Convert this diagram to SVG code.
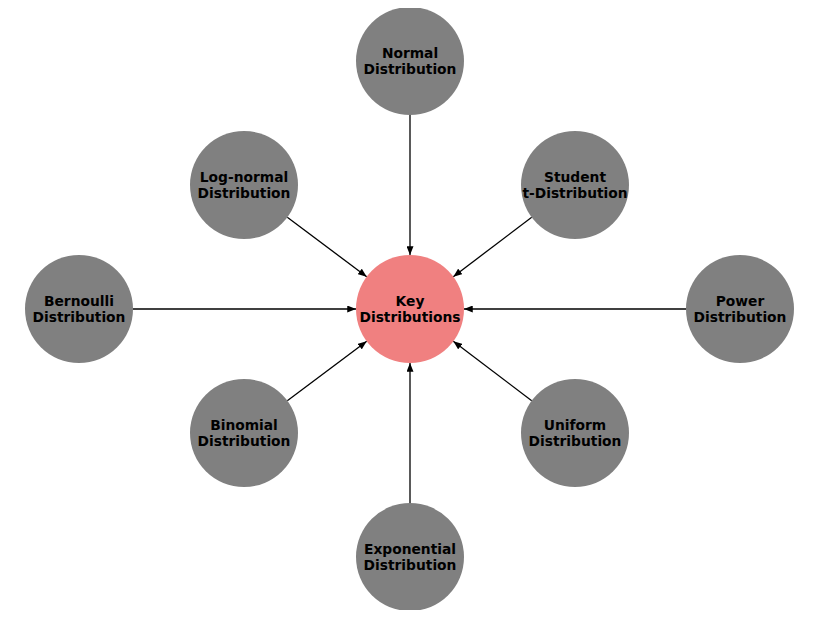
<svg xmlns="http://www.w3.org/2000/svg" width="819" height="619" viewBox="0 0 819 619">
<style>
.n{fill:#808080}
.c{fill:#F08080}
text{font-family:"DejaVu Sans",sans-serif;font-weight:bold;font-size:13.8px;text-anchor:middle;fill:#000}
.e{stroke:#000;stroke-width:1.3;fill:none;marker-end:url(#a)}
</style>
<defs>
<clipPath id="clip"><rect x="0" y="8" width="819" height="602"/></clipPath>
<marker id="a" viewBox="0 0 10 8" refX="10" refY="4" markerWidth="9" markerHeight="7" markerUnits="userSpaceOnUse" orient="auto"><path d="M0,0L10,4L0,8z" fill="#000"/></marker>
</defs>
<rect width="819" height="619" fill="#fff"/>
<g id="edges">
<line class="e" x1="410" y1="115" x2="410" y2="255"/>
<line class="e" x1="410" y1="503" x2="410" y2="363"/>
<line class="e" x1="133" y1="309" x2="356" y2="309"/>
<line class="e" x1="686" y1="309" x2="464" y2="309"/>
<line class="e" x1="287.3" y1="217.3" x2="366.7" y2="276.7"/>
<line class="e" x1="531.7" y1="217.3" x2="453.3" y2="276.7"/>
<line class="e" x1="287.3" y1="400.7" x2="366.7" y2="341.3"/>
<line class="e" x1="531.7" y1="400.7" x2="453.3" y2="341.3"/>
</g>
<g clip-path="url(#clip)">
<g id="key"><circle class="c" cx="410" cy="309" r="54"/><text x="410" y="306">Key</text><text x="410" y="322">Distributions</text></g>
<g id="normal"><circle class="n" cx="410" cy="61" r="54"/><text x="410" y="58">Normal</text><text x="410" y="74">Distribution</text></g>
<g id="lognormal"><circle class="n" cx="244" cy="185" r="54"/><text x="244" y="182">Log-normal</text><text x="244" y="198">Distribution</text></g>
<g id="student"><circle class="n" cx="575" cy="185" r="54"/><text x="575" y="182">Student</text><text x="575" y="198">t-Distribution</text></g>
<g id="bernoulli"><circle class="n" cx="79" cy="309" r="54"/><text x="79" y="306">Bernoulli</text><text x="79" y="322">Distribution</text></g>
<g id="power"><circle class="n" cx="740" cy="309" r="54"/><text x="740" y="306">Power</text><text x="740" y="322">Distribution</text></g>
<g id="binomial"><circle class="n" cx="244" cy="433" r="54"/><text x="244" y="430">Binomial</text><text x="244" y="446">Distribution</text></g>
<g id="uniform"><circle class="n" cx="575" cy="433" r="54"/><text x="575" y="430">Uniform</text><text x="575" y="446">Distribution</text></g>
<g id="exponential"><circle class="n" cx="410" cy="557" r="54"/><text x="410" y="554">Exponential</text><text x="410" y="570">Distribution</text></g>
</g>
</svg>
